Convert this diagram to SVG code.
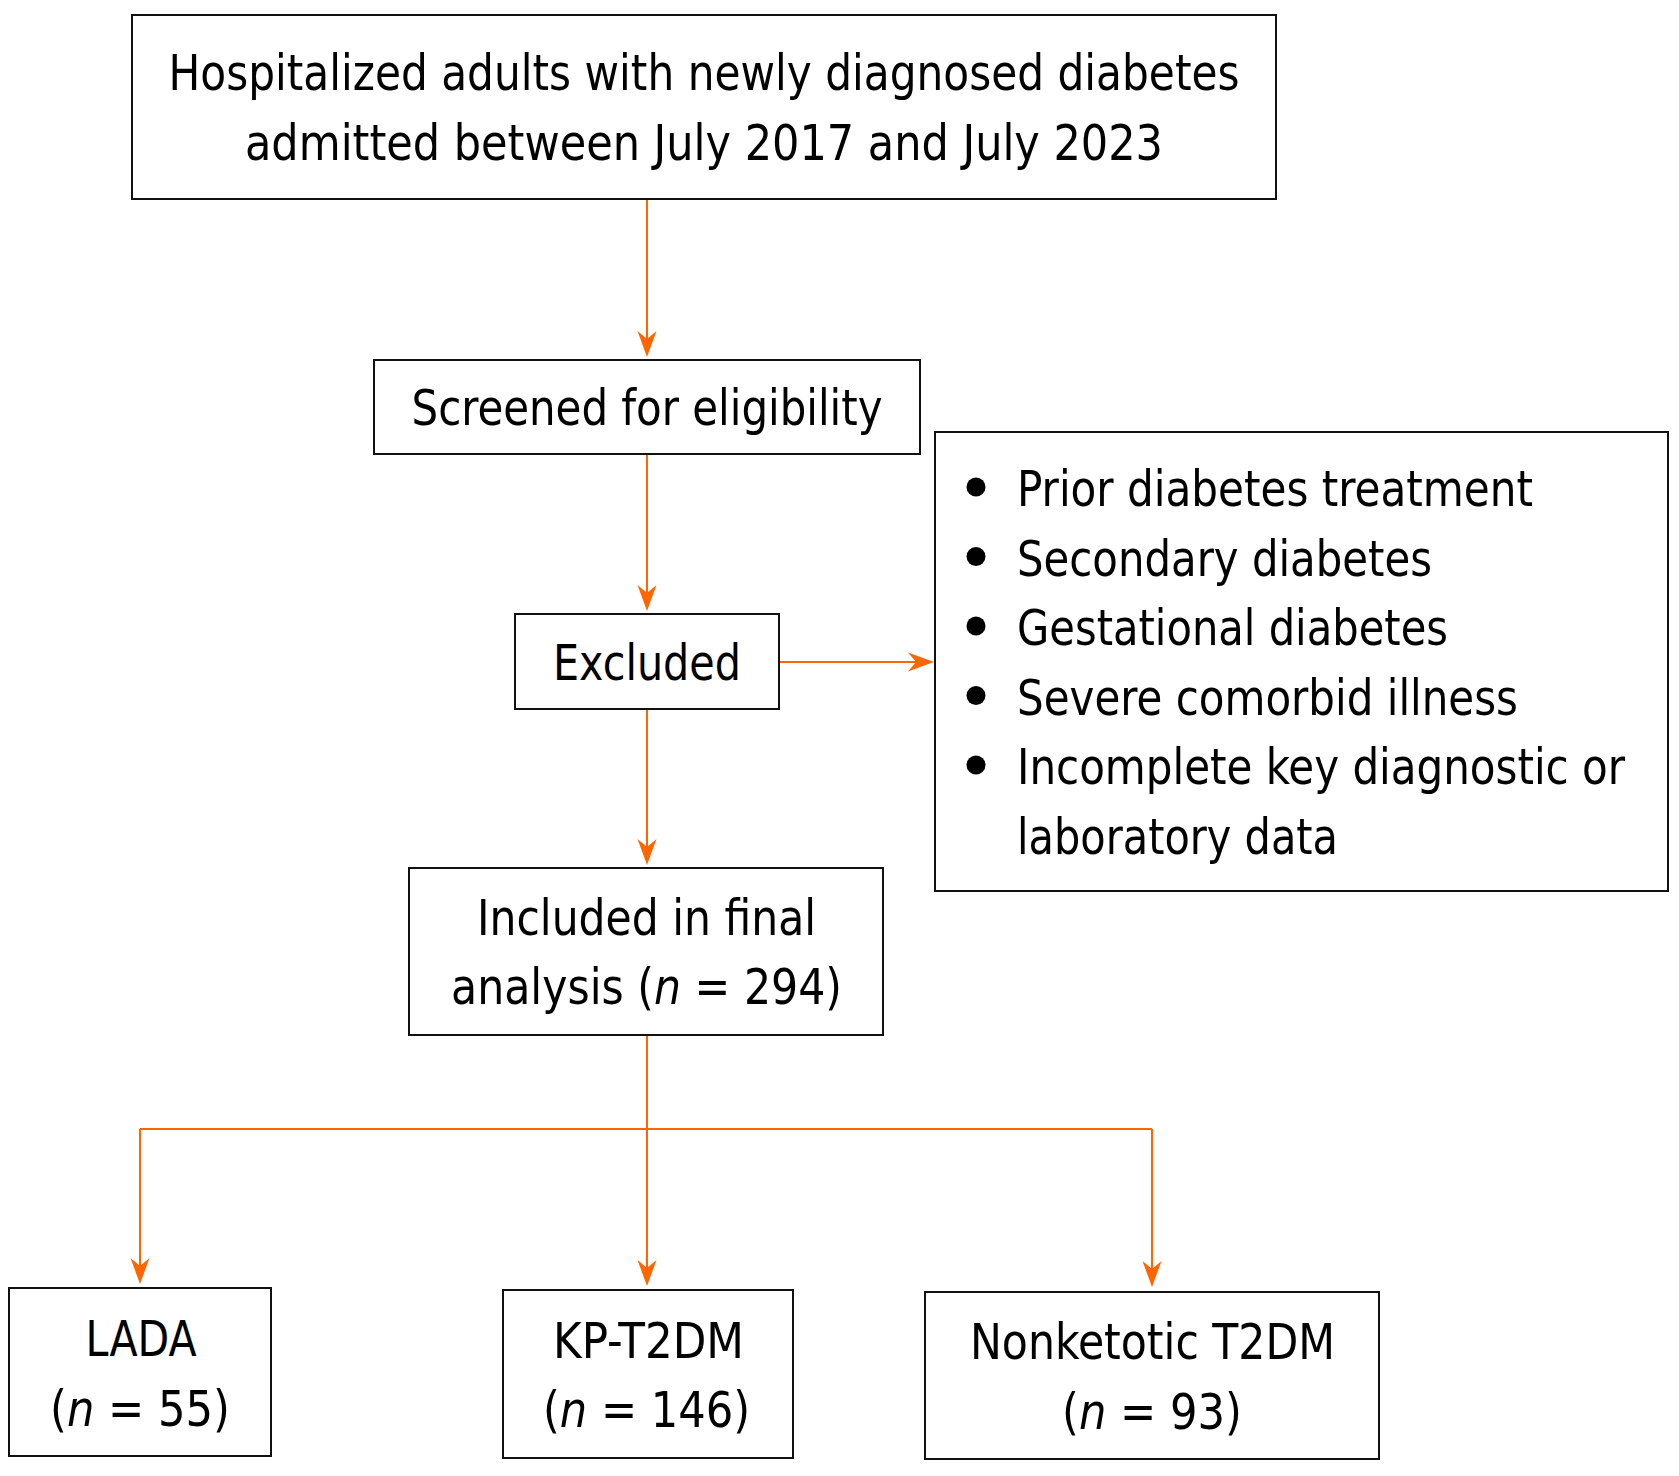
<svg xmlns="http://www.w3.org/2000/svg" width="1679" height="1476" viewBox="0 0 1679 1476">
<style>
.box{fill:#fff;stroke:#111;stroke-width:2}
.t{font-family:'DejaVu Sans Condensed','DejaVu Sans',sans-serif;font-size:50px;fill:#000}
.c{text-anchor:middle}
.ln{stroke:#FF6600;stroke-width:2;fill:none}
.arr{marker-end:url(#ah)}
</style>
<defs>
<marker id="ah" markerUnits="userSpaceOnUse" viewBox="0 -10 27 20" markerWidth="27" markerHeight="20" refX="10" refY="0" orient="auto">
<path d="M0,-9.5 L26,0 L0,9.5 L8,0 Z" fill="#FF6600"/>
</marker>
</defs>
<rect width="1679" height="1476" fill="#fff"/>
<g id="connectors">
<line class="ln arr" x1="647" y1="199" x2="647" y2="341"/>
<line class="ln arr" x1="647" y1="454" x2="647" y2="595"/>
<line class="ln arr" x1="779" y1="662" x2="918" y2="662"/>
<line class="ln arr" x1="647" y1="709" x2="647" y2="849"/>
<polyline class="ln" points="647,1035 647,1129"/>
<polyline class="ln" points="140,1129 1152,1129"/>
<line class="ln arr" x1="140" y1="1129" x2="140" y2="1268"/>
<line class="ln arr" x1="647" y1="1129" x2="647" y2="1270"/>
<line class="ln arr" x1="1152" y1="1129" x2="1152" y2="1271"/>
</g>
<g id="node-hospitalized">
<rect class="box" x="132" y="15" width="1144" height="184"/>
<text class="t c" x="704" y="90" textLength="1071" lengthAdjust="spacingAndGlyphs">Hospitalized adults with newly diagnosed diabetes</text>
<text class="t c" x="704" y="160" textLength="918" lengthAdjust="spacingAndGlyphs">admitted between July 2017 and July 2023</text>
</g>
<g id="node-screened">
<rect class="box" x="374" y="360" width="546" height="94"/>
<text class="t c" x="647" y="425" textLength="471" lengthAdjust="spacingAndGlyphs">Screened for eligibility</text>
</g>
<g id="node-excluded">
<rect class="box" x="515" y="614" width="264" height="95"/>
<text class="t c" x="647" y="680" textLength="188" lengthAdjust="spacingAndGlyphs">Excluded</text>
</g>
<g id="node-exclusion-criteria">
<rect class="box" x="935" y="432" width="733" height="459"/>
<circle cx="976" cy="487" r="9.5"/>
<circle cx="976" cy="556.5" r="9.5"/>
<circle cx="976" cy="626" r="9.5"/>
<circle cx="976" cy="695.5" r="9.5"/>
<circle cx="976" cy="765" r="9.5"/>
<text class="t" x="1017" y="506" textLength="516" lengthAdjust="spacingAndGlyphs">Prior diabetes treatment</text>
<text class="t" x="1017" y="575.5" textLength="415" lengthAdjust="spacingAndGlyphs">Secondary diabetes</text>
<text class="t" x="1017" y="645" textLength="431" lengthAdjust="spacingAndGlyphs">Gestational diabetes</text>
<text class="t" x="1017" y="714.5" textLength="501" lengthAdjust="spacingAndGlyphs">Severe comorbid illness</text>
<text class="t" x="1017" y="784" textLength="608" lengthAdjust="spacingAndGlyphs">Incomplete key diagnostic or</text>
<text class="t" x="1017" y="853.5" textLength="321" lengthAdjust="spacingAndGlyphs">laboratory data</text>
</g>
<g id="node-included">
<rect class="box" x="409" y="868" width="474" height="167"/>
<text class="t c" x="646.5" y="934.5" textLength="339" lengthAdjust="spacingAndGlyphs">Included in final</text>
<text class="t c" x="646.5" y="1004" textLength="391" lengthAdjust="spacingAndGlyphs">analysis (<tspan font-style="italic">n</tspan> = 294)</text>
</g>
<g id="node-lada">
<rect class="box" x="9" y="1288" width="262" height="168"/>
<text class="t c" x="141" y="1356" textLength="111" lengthAdjust="spacingAndGlyphs">LADA</text>
<text class="t c" x="140" y="1425.5" textLength="180" lengthAdjust="spacingAndGlyphs">(<tspan font-style="italic">n</tspan> = 55)</text>
</g>
<g id="node-kp">
<rect class="box" x="503" y="1290" width="290" height="168"/>
<text class="t c" x="648.5" y="1357.5" textLength="191" lengthAdjust="spacingAndGlyphs">KP-T2DM</text>
<text class="t c" x="646.5" y="1427" textLength="207" lengthAdjust="spacingAndGlyphs">(<tspan font-style="italic">n</tspan> = 146)</text>
</g>
<g id="node-nonketotic">
<rect class="box" x="925" y="1292" width="454" height="167"/>
<text class="t c" x="1152.5" y="1359" textLength="365" lengthAdjust="spacingAndGlyphs">Nonketotic T2DM</text>
<text class="t c" x="1152" y="1428.5" textLength="180" lengthAdjust="spacingAndGlyphs">(<tspan font-style="italic">n</tspan> = 93)</text>
</g>
</svg>
